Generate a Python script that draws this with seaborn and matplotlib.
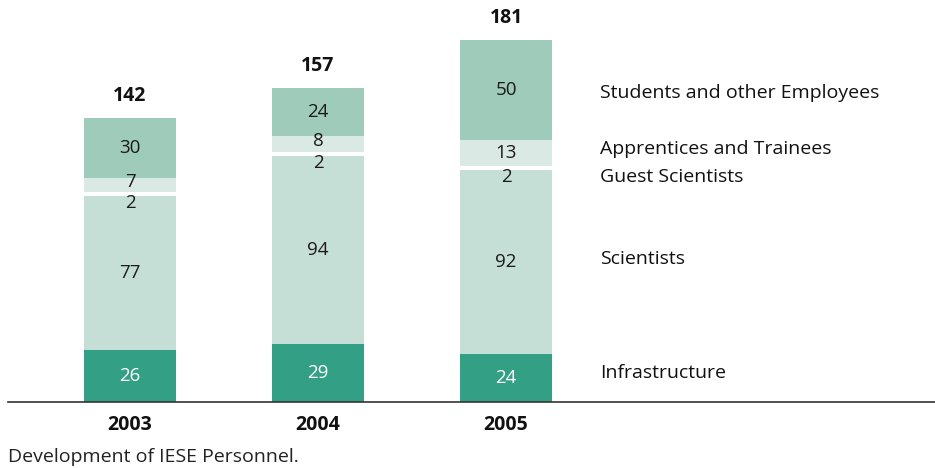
import numpy as np
import pandas as pd
import seaborn as sns
import matplotlib.pyplot as plt

years = ['2003', '2004', '2005']
groups = ['Infrastructure', 'Scientists', 'Guest Scientists',
          'Apprentices and Trainees', 'Students and other Employees']
infrastructure = [26, 29, 24]
scientists = [77, 94, 92]
guest_scientists = [2, 2, 2]
apprentices = [7, 8, 13]
students = [30, 24, 50]
totals = [142, 157, 181]

colors = ['#33a086', '#c6dfd6', '#ffffff', '#dbe9e4', '#9fcbba']
text_colors = ['white', '#1a1a1a', '#1a1a1a', '#1a1a1a', '#1a1a1a']
# right-hand label heights (data units)
label_y = [14.5, 71.5, 112.5, 126.5, 154.5]

sns.set_theme(style='white')
plt.rcParams['font.family'] = ['Open Sans', 'DejaVu Sans']

series = [infrastructure, scientists, guest_scientists, apprentices, students]
df = pd.DataFrame({'year': years})

fig = plt.figure(figsize=(9.35, 4.68), dpi=100)
ax = fig.add_axes([0.0086, 0.141, 0.9914, 0.859])

bottom = np.zeros(len(years))
for name, vals, col, tcol in zip(groups, series, colors, text_colors):
    df[name] = vals
    sns.barplot(data=df, x='year', y=name, order=years, color=col,
                saturation=1, width=0.49, bottom=bottom, ax=ax,
                edgecolor='none', linewidth=0)
    for i, v in enumerate(vals):
        y = bottom[i] + v / 2
        if v <= 2:
            # thin white gap: put its number just below
            y = bottom[i] - 3.5
        elif v < 10:
            y += 1.5
        ax.text(i, y, str(v), ha='center', va='center', fontsize=13.5, color=tcol)
    bottom = bottom + np.array(vals)

for i, t in enumerate(totals):
    ax.text(i, t + 11, str(t), ha='center', va='center', fontsize=14,
            fontweight='bold', color='#111111')

for name, y in zip(groups, label_y):
    ax.text(2.5, y, name, ha='left', va='center', fontsize=14, color='#111111')

ax.set_xlim(-0.649, 4.282)
ax.set_ylim(0, 201)
ax.set_xlabel('')
ax.set_ylabel('')
ax.set_yticks([])
ax.set_xticks(range(len(years)))
ax.set_xticklabels(years, fontsize=14, fontweight='bold', color='#111111')
ax.tick_params(axis='x', length=0, pad=9)
for s in ['top', 'right', 'left']:
    ax.spines[s].set_visible(False)
ax.spines['bottom'].set_color('#333333')
ax.spines['bottom'].set_linewidth(1.2)

fig.text(0.0086, 0.024, 'Development of IESE Personnel.', fontsize=14, color='#222222',
         ha='left', va='center')

fig.savefig('out.png', dpi=100)
